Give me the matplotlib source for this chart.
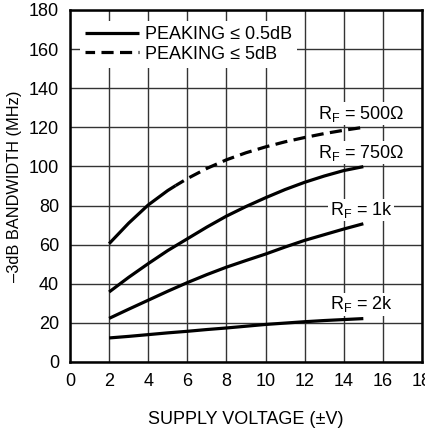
import matplotlib
matplotlib.use('Agg')
import matplotlib.pyplot as plt
from matplotlib import font_manager

names = {f.name for f in font_manager.fontManager.ttflist}
fam = ['Liberation Sans Narrow', 'Liberation Sans', 'DejaVu Sans']
fam = [f for f in fam if f in names] + ['DejaVu Sans']
plt.rcParams['font.family'] = fam
plt.rcParams['mathtext.fontset'] = 'custom'
plt.rcParams['mathtext.rm'] = fam[0]

# data
vs = [2, 3, 4, 5, 6, 7, 8, 9, 10, 11, 12, 13, 14, 15]
bw_750 = [35.8, 43.3, 50.3, 57, 63, 69, 74.6, 79.5, 84, 88.2, 91.9, 95.1, 97.9, 99.9]
bw_1k = [22.3, 27, 31.6, 36.2, 40.6, 44.7, 48.5, 51.9, 55.2, 58.8, 62.2, 65.1, 68, 70.7]
bw_2k = [12.3, 13.1, 14, 14.9, 15.7, 16.6, 17.4, 18.3, 19.2, 19.9, 20.6, 21.2, 21.7, 22.2]

# RF = 500 ohm: solid while peaking <= 0.5dB, dashed after
vs_500 = [2, 3, 4, 5, 5.4, 6, 7, 8, 9, 10, 11, 12, 13, 14, 15]
bw_500 = [60.5, 71, 80.3, 87.7, 90.2, 93.8, 99, 103.4, 107, 110, 112.6, 114.8, 116.8, 118.5, 120]
n_solid_500 = 5

labels = ['R$_\\mathregular{F}$ = 500\u03a9', 'R$_\\mathregular{F}$ = 750\u03a9',
          'R$_\\mathregular{F}$ = 1k', 'R$_\\mathregular{F}$ = 2k']
label_xy = [(14.9, 127), (14.9, 107), (14.9, 77.7), (14.9, 29.6)]

fig = plt.figure(figsize=(4.25, 4.34), dpi=100)
ax = fig.add_axes([70 / 425, 72 / 434, 352 / 425, 352 / 434])

lw = 2.3
l1, = ax.plot(vs, bw_750, color='black', lw=lw, solid_capstyle='butt')
ax.plot(vs, bw_1k, color='black', lw=lw, solid_capstyle='butt')
ax.plot(vs, bw_2k, color='black', lw=lw, solid_capstyle='butt')
ax.plot(vs_500[:n_solid_500], bw_500[:n_solid_500], color='black', lw=lw,
        solid_capstyle='butt')
l2, = ax.plot(vs_500[n_solid_500 - 1:], bw_500[n_solid_500 - 1:], color='black',
              lw=lw, ls=(0.8, (3.8, 2.0)), dash_capstyle='butt')

for t, (x, y) in zip(labels, label_xy):
    ax.text(x, y, t, ha='center', va='center', fontsize=13,
            bbox=dict(facecolor='white', edgecolor='none', pad=1))

leg = ax.legend([l1, l2], ['PEAKING \u2264 0.5dB', 'PEAKING \u2264 5dB'],
                loc='upper left', bbox_to_anchor=(0.027, 0.97), fontsize=13,
                handlelength=3.0, handletextpad=0.3, labelspacing=0.15,
                borderpad=0.3, borderaxespad=0, fancybox=False, framealpha=1)
leg.get_frame().set_edgecolor('none')

ax.set_xlim(0, 18)
ax.set_ylim(0, 180)
ax.set_xticks(range(0, 19, 2))
ax.set_yticks(range(0, 181, 20))
ax.grid(True, color='#333333', lw=1)
ax.tick_params(length=0, labelsize=13)
ax.tick_params(axis='x', pad=8)
ax.tick_params(axis='y', pad=8)
for s in ax.spines.values():
    s.set_linewidth(1.8)

ax.set_xlabel('SUPPLY VOLTAGE (\u00b1V)', fontsize=13, labelpad=15)
ax.set_ylabel('\u20133dB BANDWIDTH (MHz)', fontsize=11.8, labelpad=5)

plt.savefig('out.png', dpi=100)
